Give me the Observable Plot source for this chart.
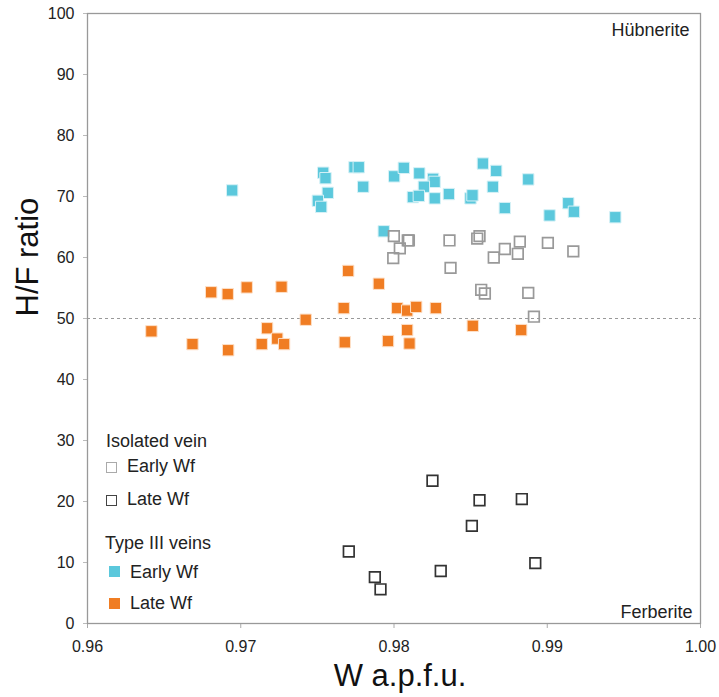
<!DOCTYPE html>
<html><head><meta charset="utf-8">
<script src="https://cdn.jsdelivr.net/npm/d3@7"></script>
<script src="https://cdn.jsdelivr.net/npm/@observablehq/plot@0.6"></script>
<style>
body{margin:0;background:#fff;font-family:"Liberation Sans",Arial,sans-serif;}
#wrap{position:relative;width:719px;height:697px;}
.lg{position:absolute;font-size:18px;line-height:20px;color:#222;white-space:nowrap}
.sq{position:absolute;box-sizing:border-box}
</style></head><body><div id="wrap"></div>
<script>
// Isolated vein, early Wf (open light-gray squares)
const isoEarlyW  = [0.97999,0.98038,0.97995,0.98090,0.98097,0.98362,0.98369,0.98543,0.98558,0.98651,0.98723,0.98821,0.98808,0.99004,0.99170,0.98569,0.98593,0.98876,0.98913];
const isoEarlyHF = [63.5,61.5,59.9,62.8,62.8,62.8,58.3,63.1,63.5,60.0,61.4,62.6,60.6,62.4,61.0,54.7,54.1,54.2,50.3];
// Isolated vein, late Wf (open dark squares)
const isoLateW  = [0.98251,0.98558,0.98834,0.98508,0.97705,0.98922,0.98305,0.97875,0.97912];
const isoLateHF = [23.4,20.2,20.4,16.0,11.8,9.9,8.6,7.6,5.6];
// Type III veins, early Wf (cyan)
const t3EarlyW  = [0.96944,0.97538,0.97553,0.97742,0.97770,0.97799,0.98001,0.97568,0.97503,0.97525,0.97933,0.98064,0.98165,0.98255,0.98265,0.98195,0.98123,0.98162,0.98266,0.98358,0.98499,0.98512,0.98580,0.98667,0.98645,0.98876,0.98723,0.99015,0.99137,0.99174,0.99444];
const t3EarlyHF = [71.0,73.9,73.0,74.8,74.8,71.6,73.3,70.6,69.3,68.3,64.3,74.7,73.8,72.9,72.4,71.6,69.9,70.1,69.7,70.4,69.7,70.2,75.4,74.2,71.6,72.8,68.1,66.9,68.9,67.5,66.6];
// Type III veins, late Wf (orange)
const t3LateW  = [0.96417,0.96685,0.96918,0.96807,0.96915,0.97039,0.97266,0.97172,0.97238,0.97137,0.97283,0.97424,0.97701,0.97672,0.97679,0.97901,0.97961,0.98021,0.98086,0.98145,0.98273,0.98086,0.98101,0.98514,0.98830];
const t3LateHF = [47.9,45.8,44.8,54.3,54.0,55.1,55.2,48.4,46.7,45.8,45.8,49.8,57.8,51.7,46.1,55.7,46.3,51.7,51.3,51.9,51.7,48.1,45.9,48.8,48.1];

const xTicks = [0.96,0.97,0.98,0.99,1.00];
const yTicks = [0,10,20,30,40,50,60,70,80,90,100];
const threshold = [50];

const rows = (ws, hs) => ws.map((w, i) => ({w, hf: hs[i]}));
const isoEarly = rows(isoEarlyW, isoEarlyHF);
const isoLate = rows(isoLateW, isoLateHF);
const t3Early = rows(t3EarlyW, t3EarlyHF);
const t3Late = rows(t3LateW, t3LateHF);

const chart = Plot.plot({
  width: 719, height: 697,
  marginLeft: 87, marginRight: 19, marginTop: 13, marginBottom: 74,
  style: {fontFamily: "Liberation Sans, Arial, sans-serif", fontSize: "16px", color: "#222", background: "#fff"},
  x: {domain: [0.96, 1.0], axis: null},
  y: {domain: [0, 100], axis: null},
  marks: [
    Plot.axisX(xTicks, {tickFormat: d3.format(".2f"), tickSize: 5, tickPadding: 12, stroke: "#aaa", fill: "#222", fontSize: 16, label: null}),
    Plot.axisY(yTicks, {tickSize: 4, tickPadding: 9, stroke: "#bbb", fill: "#222", fontSize: 16, label: null}),
    Plot.ruleY(threshold, {stroke: "#999", strokeDasharray: "3,3", strokeWidth: 1}),
    Plot.dot(t3Late, {x: "w", y: "hf", symbol: "square", r: 6.4, fill: "#F07D23", stroke: "#fde0c8", strokeWidth: 1}),
    Plot.dot(t3Early, {x: "w", y: "hf", symbol: "square", r: 6.4, fill: "#5BC8DC", stroke: "#d6f1f6", strokeWidth: 1}),
    Plot.dot(isoEarly, {x: "w", y: "hf", symbol: "square", r: 6.0, fill: "none", stroke: "#999", strokeWidth: 1.7}),
    Plot.dot(isoLate, {x: "w", y: "hf", symbol: "square", r: 6.0, fill: "none", stroke: "#333", strokeWidth: 1.7}),
    Plot.frame({stroke: "#999", strokeWidth: 1.3}),
    Plot.text(["Hübnerite"], {text: d => d, frameAnchor: "top-right", dx: -11, dy: 10, lineAnchor: "top", textAnchor: "end", fontSize: 18, fill: "#222"}),
    Plot.text(["Ferberite"], {text: d => d, frameAnchor: "bottom-right", dx: -8, dy: -6, lineAnchor: "bottom", textAnchor: "end", fontSize: 18, fill: "#222"}),
    Plot.text(["H/F ratio"], {text: d => d, frameAnchor: "left", dx: -59, dy: -2, rotate: -90, lineAnchor: "middle", fontSize: 31, fill: "#111"}),
    Plot.text(["W a.p.f.u."], {text: d => d, frameAnchor: "bottom", dx: 6, dy: 62, lineAnchor: "bottom", fontSize: 31, fill: "#111"})
  ]
});
const wrap = document.getElementById("wrap");
wrap.appendChild(chart);

// Legend (inside plot area, lower left)
const legend = [
  {type: "title", text: "Isolated vein", x: 106, cy: 441},
  {type: "item", text: "Early Wf", x: 127, cy: 466, sq: {x: 106, y: 462, s: 11, fill: "none", stroke: "#aaa"}},
  {type: "item", text: "Late Wf", x: 127, cy: 499, sq: {x: 106, y: 495, s: 11, fill: "none", stroke: "#444"}},
  {type: "title", text: "Type III veins", x: 105, cy: 543},
  {type: "item", text: "Early Wf", x: 130, cy: 572, sq: {x: 109, y: 566, s: 11, fill: "#5BC8DC", stroke: null}},
  {type: "item", text: "Late Wf", x: 130, cy: 603, sq: {x: 109, y: 598, s: 11, fill: "#F07D23", stroke: null}}
];
for (const l of legend) {
  const t = document.createElement("div");
  t.className = "lg";
  t.textContent = l.text;
  t.style.left = l.x + "px";
  t.style.top = (l.cy - 10) + "px";
  wrap.appendChild(t);
  if (l.sq) {
    const s = document.createElement("div");
    s.className = "sq";
    s.style.left = l.sq.x + "px";
    s.style.top = l.sq.y + "px";
    s.style.width = l.sq.s + "px";
    s.style.height = l.sq.s + "px";
    s.style.background = l.sq.fill === "none" ? "transparent" : l.sq.fill;
    if (l.sq.stroke) s.style.border = "1.5px solid " + l.sq.stroke;
    wrap.appendChild(s);
  }
}
</script></body></html>
